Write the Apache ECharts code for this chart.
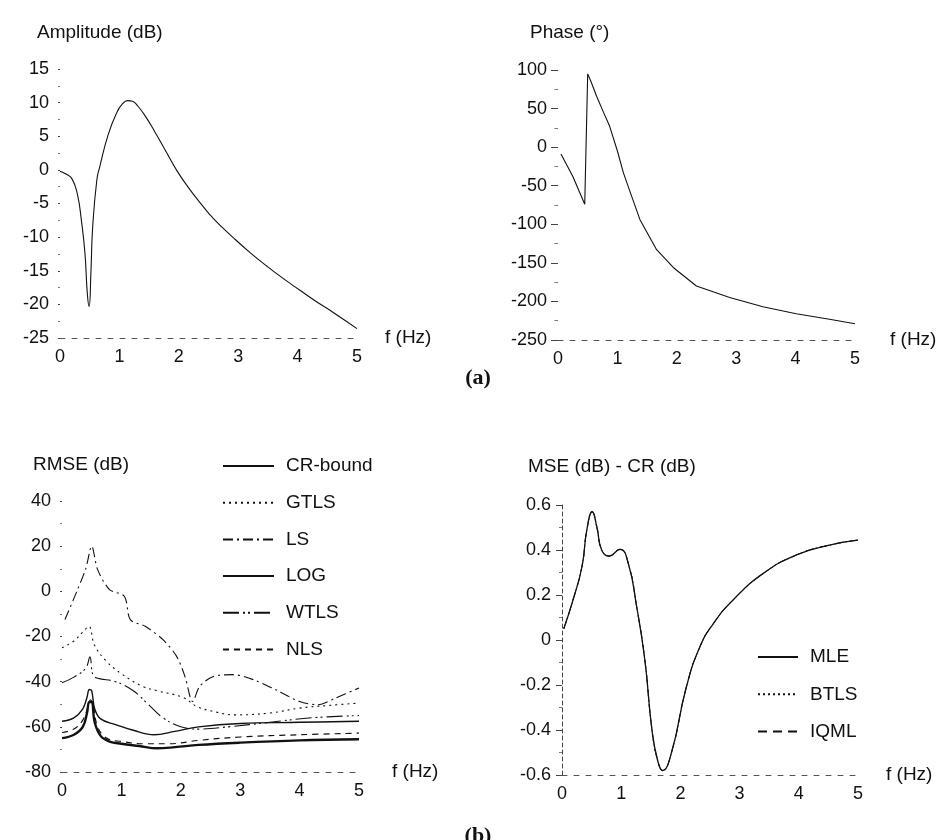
<!DOCTYPE html>
<html>
<head>
<meta charset="utf-8">
<script src="https://cdn.jsdelivr.net/npm/echarts@6/dist/echarts.min.js"></script>
<style>
html, body { margin: 0; background: #fff; }
#main { width: 950px; height: 840px; }
</style>
</head>
<body>
<div id="main"></div>
<script>
// (a) amplitude
var ampF = [0, 0.1, 0.2, 0.29, 0.36, 0.42, 0.46, 0.49, 0.52, 0.55, 0.62, 0.67, 0.81, 0.95, 1.05, 1.14, 1.22, 1.31, 1.45, 1.6, 1.78, 1.96, 2.15, 2.36, 2.6, 2.92, 3.2, 3.48, 3.75, 4.04, 4.3, 4.6, 5.0];
var ampV = [-0.2, -0.6, -1.3, -3.5, -7.5, -12.4, -18.4, -20.3, -15.4, -8.5, -1.5, 0.5, 5.2, 8.4, 9.8, 10.3, 10.2, 9.5, 7.8, 5.6, 2.8, 0, -2.5, -4.9, -7.4, -10.1, -12.3, -14.3, -16.1, -17.9, -19.5, -21.2, -23.6];

// (a) phase
var phaseF = [0.05, 0.25, 0.45, 0.5, 0.55, 0.65, 0.75, 0.87, 1.0, 1.1, 1.2, 1.38, 1.66, 1.94, 2.33, 2.89, 3.45, 4.01, 4.57, 5.0];
var phaseV = [-9, -38, -74, 95, 86, 66, 48, 27, -5, -33, -55, -94, -133, -156, -180, -195, -207, -216, -223, -229];

// (b) RMSE
var crF = [0, 0.2, 0.35, 0.42, 0.46, 0.5, 0.55, 0.65, 0.8, 1.0, 1.3, 1.6, 1.9, 2.3, 3.0, 4.0, 5.0];
var crV = [-65, -63.5, -60, -54, -49, -49, -58, -64, -66.5, -67.5, -68.5, -69.5, -69, -68, -67, -66, -65.5];
var gtlsF = [0, 0.2, 0.35, 0.45, 0.55, 0.75, 1.0, 1.35, 1.6, 2.04, 2.27, 2.6, 2.9, 3.5, 4.0, 4.5, 5.0];
var gtlsV = [-25, -22, -18, -15.5, -24, -31, -36.5, -42, -44, -47, -51, -53.5, -54.7, -53.9, -51.7, -50.5, -49.5];
var lsF = [0.05, 0.25, 0.4, 0.5, 0.6, 0.8, 1.05, 1.15, 1.4, 1.7, 1.93, 2.07, 2.2, 2.32, 2.55, 2.88, 3.22, 3.6, 4.0, 4.3, 4.6, 5.0];
var lsV = [-12.5, 0, 10, 20, 9.6, 0.8, -2.2, -12.5, -15.5, -21.4, -28.8, -37.7, -48.8, -42, -37.7, -36.9, -39.1, -43.6, -48.8, -50.2, -47.3, -42.8];
var logF = [0, 0.2, 0.35, 0.42, 0.46, 0.5, 0.55, 0.65, 0.9, 1.2, 1.55, 1.9, 2.3, 3.0, 4.0, 5.0];
var logV = [-57.5, -56, -52, -47, -43.5, -44, -52, -56.5, -59, -61.5, -63.5, -62, -60, -58.5, -58, -57.5];
var wtlsF = [0, 0.2, 0.4, 0.47, 0.52, 0.6, 0.9, 1.2, 1.45, 1.7, 2.0, 2.3, 2.8, 3.5, 4.2, 5.0];
var wtlsV = [-40.5, -38, -34, -29, -37, -38.5, -40, -44, -50, -56, -60, -61, -60, -58, -56, -55];
var nlsF = [0, 0.2, 0.35, 0.44, 0.48, 0.52, 0.6, 0.75, 1.0, 1.4, 1.8, 2.3, 3.0, 4.0, 5.0];
var nlsV = [-62.5, -61, -57, -51, -48, -50, -60, -65, -66.5, -67.5, -67.5, -66, -64.5, -63.5, -62.8];

// (b) MSE - CR
var mseF = [0.03, 0.2, 0.34, 0.42, 0.51, 0.59, 0.67, 0.79, 0.98, 1.12, 1.26, 1.4, 1.52, 1.62, 1.7, 1.85, 2.1, 2.33, 2.56, 2.89, 3.4, 3.96, 4.52, 5.0];
var mseV = [0.05, 0.19, 0.33, 0.49, 0.57, 0.5, 0.4, 0.373, 0.403, 0.34, 0.15, -0.09, -0.4, -0.54, -0.58, -0.5, -0.21, -0.03, 0.074, 0.178, 0.296, 0.378, 0.422, 0.444];

function pairs(f, v) {
  return f.map(function (x, i) { return [x, v[i]]; });
}

var font = 'Liberation Sans, Arial, sans-serif';
var ink = '#111';

function xAx(idx, gap) {
  return {
    gridIndex: idx, type: 'value', min: 0, max: 5, interval: 1,
    name: 'f (Hz)', nameLocation: 'end', nameGap: gap,
    nameTextStyle: {fontFamily: font, fontSize: 19, color: ink},
    axisLine: {show: true, onZero: false, lineStyle: {color: '#555', width: 1, type: [5, 7]}},
    axisTick: {show: false},
    splitLine: {show: false},
    axisLabel: {fontFamily: font, fontSize: 18, color: ink, margin: 10}
  };
}

function yAx(idx, min, max, step, tickLen, lineOn) {
  return {
    gridIndex: idx, type: 'value', min: min, max: max, interval: step,
    axisLine: {show: lineOn, lineStyle: {color: '#444', width: 1, type: [4, 3]}},
    axisTick: {show: true, length: tickLen, lineStyle: {color: '#444'}},
    minorTick: {show: true, splitNumber: 2, length: Math.max(2, tickLen / 2), lineStyle: {color: '#777'}},
    splitLine: {show: false},
    axisLabel: {fontFamily: font, fontSize: 18, color: ink, margin: 11}
  };
}

function line(name, xi, data, width, dash, smooth) {
  return {
    name: name, type: 'line', xAxisIndex: xi, yAxisIndex: xi,
    data: data, symbol: 'none', smooth: smooth,
    lineStyle: {color: ink, width: width, type: dash},
    itemStyle: {color: ink}
  };
}

function label(txt, x, y, size, bold, fam, align) {
  return {
    type: 'text', x: x, y: y,
    style: {text: txt, fill: ink, font: (bold ? 'bold ' : '') + size + 'px ' + fam,
      textAlign: align || 'left', textVerticalAlign: 'middle'}
  };
}

var legendText = {fontFamily: font, fontSize: 19, color: ink, lineHeight: 20, padding: [0, 0, 0, 7]};

var chart = echarts.init(document.getElementById('main'));

chart.setOption({
  backgroundColor: '#fff',
  animation: false,
  grid: [
    {left: 60, top: 69, width: 297, height: 269, outerBoundsMode: 'none'},
    {left: 558, top: 70, width: 297, height: 270, outerBoundsMode: 'none'},
    {left: 62, top: 501, width: 297, height: 271, outerBoundsMode: 'none'},
    {left: 562, top: 505, width: 296, height: 270, outerBoundsMode: 'none'}
  ],
  xAxis: [xAx(0, 28), xAx(1, 35), xAx(2, 33), xAx(3, 28)],
  yAxis: [
    yAx(0, -25, 15, 5, 2, false),
    yAx(1, -250, 100, 50, 7, false),
    yAx(2, -80, 40, 20, 2, false),
    yAx(3, -0.6, 0.6, 0.2, 6, true)
  ],
  legend: [
    {
      data: ['CR-bound', 'GTLS', 'LS', 'LOG', 'WTLS', 'NLS'],
      orient: 'vertical', left: 217, top: 451, itemWidth: 51, itemHeight: 14, itemGap: 16.7,
      itemStyle: {opacity: 0, borderWidth: 0},
      textStyle: legendText,
      selectedMode: false
    },
    {
      data: ['MLE', 'BTLS', 'IQML'],
      orient: 'vertical', left: 752, top: 642, itemWidth: 40, itemHeight: 14, itemGap: 17.3,
      itemStyle: {opacity: 0, borderWidth: 0},
      textStyle: legendText,
      selectedMode: false
    }
  ],
  graphic: [
    label('Amplitude (dB)', 37, 33, 19, false, font),
    label('Phase (°)', 530, 33, 19, false, font),
    label('RMSE (dB)', 33, 465, 19, false, font),
    label('MSE (dB) - CR (dB)', 528, 467, 19, false, font),
    label('(a)', 478, 378, 22, true, 'Liberation Serif, serif', 'center'),
    label('(b)', 478, 836, 22, true, 'Liberation Serif, serif', 'center')
  ],
  series: [
    line('Amplitude', 0, pairs(ampF, ampV), 1.1, 'solid', 0.5),
    line('Phase', 1, pairs(phaseF, phaseV), 1.1, 'solid', false),
    line('CR-bound', 2, pairs(crF, crV), 2.4, 'solid', 0.4),
    line('GTLS', 2, pairs(gtlsF, gtlsV), 1.1, [2, 4], 0.4),
    line('LS', 2, pairs(lsF, lsV), 1.1, [10, 4, 2, 4], 0.3),
    line('LOG', 2, pairs(logF, logV), 1.4, 'solid', 0.4),
    line('WTLS', 2, pairs(wtlsF, wtlsV), 1.1, [16, 4, 2, 3, 2, 4], 0.4),
    line('NLS', 2, pairs(nlsF, nlsV), 1.2, [6, 5], 0.4),
    line('MLE', 3, pairs(mseF, mseV), 1.3, 'solid', 0.5),
    line('BTLS', 3, pairs(mseF, mseV), 1.0, [2, 3], 0.5),
    line('IQML', 3, pairs(mseF, mseV), 1.0, [9, 6], 0.5)
  ]
});
</script>
</body>
</html>
